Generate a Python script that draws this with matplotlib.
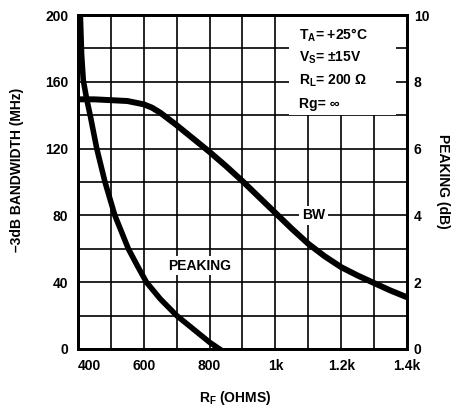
import matplotlib
matplotlib.use("Agg")
import matplotlib.pyplot as plt
from matplotlib.patches import Rectangle

plt.rcParams['font.family'] = ['Liberation Sans', 'DejaVu Sans']
plt.rcParams['font.weight'] = 'bold'
plt.rcParams['mathtext.fontset'] = 'custom'
plt.rcParams['mathtext.rm'] = 'Liberation Sans:bold'
plt.rcParams['mathtext.it'] = 'Liberation Sans:bold'
plt.rcParams['mathtext.bf'] = 'Liberation Sans:bold'
plt.rcParams['mathtext.default'] = 'rm'

# -3dB bandwidth (left axis, MHz) vs feedback resistor
bw_rf = [400, 450, 500, 550, 600, 625, 650, 700, 750, 800, 850, 900, 950, 1000,
         1050, 1100, 1150, 1200, 1250, 1300, 1350, 1400]
bw_mhz = [149.5, 149.5, 149, 148.5, 146.5, 144.5, 141.5, 134, 126, 118, 109.5, 100.5,
          91, 81.5, 72, 63, 55.5, 49, 44, 39.5, 35, 31]

# peaking (right axis, dB) vs feedback resistor
pk_rf = [404, 407, 411, 416, 426, 438, 457, 482, 512, 553, 580, 608, 650, 700, 750, 800, 830]
pk_db = [11, 10, 8.8, 8.05, 7.5, 6.95, 6, 5, 4, 3, 2.5, 2, 1.5, 1.0, 0.6, 0.2, 0]

x_ticks = [400, 600, 800, 1000, 1200, 1400]
x_labels = ['400', '600', '800', '1k', '1.2k', '1.4k']
y_ticks = [0, 40, 80, 120, 160, 200]
y2_ticks = [0, 2, 4, 6, 8, 10]

cond_lines = [r'T$_A$= +25°C', r'V$_S$= ±15V', r'R$_L$= 200 Ω', r'Rg= ∞']

fig = plt.figure(figsize=(4.52, 4.09), dpi=100)
ax = fig.add_axes([0.1726, 0.1467, 0.7278, 0.8166])

ax.set_xlim(400, 1400)
ax.set_ylim(0, 200)
ax.set_xticks(x_ticks)
ax.set_xticklabels(x_labels)
ax.set_xticks(range(400, 1401, 100), minor=True)
ax.set_yticks(y_ticks)
ax.set_yticks(range(0, 201, 20), minor=True)
ax.set_axisbelow(True)
ax.grid(which='both', color='black', linewidth=1.2)
ax.tick_params(which='both', length=0, labelsize=10)
ax.tick_params(axis='x', pad=7)
ax.tick_params(axis='y', pad=7)
ax.get_xticklabels()[0].set_horizontalalignment('left')
for s in ax.spines.values():
    s.set_linewidth(2)

ax.plot(bw_rf, bw_mhz, color='black', linewidth=4.3, solid_joinstyle='round', zorder=2)

# white box behind the test conditions
ax.add_patch(Rectangle((0.641, 0.70), 0.325, 0.30, transform=ax.transAxes,
                       facecolor='white', edgecolor='none', zorder=1))
for i, t in enumerate(cond_lines):
    ax.text(0.672, 0.940 - i * 0.069, t, transform=ax.transAxes, fontsize=10,
            fontweight='bold', ha='left', va='center', zorder=3)

ax.text(1116, 80, 'BW', fontsize=10, fontweight='bold', ha='center', va='center',
        zorder=1.5, bbox=dict(facecolor='white', edgecolor='none', pad=2))
ax.text(771, 50, 'PEAKING', fontsize=10, fontweight='bold', ha='center', va='center',
        zorder=1.5, bbox=dict(facecolor='white', edgecolor='none', pad=2))

ax2 = ax.twinx()
ax2.set_ylim(0, 10)
ax2.set_yticks(y2_ticks)
ax2.tick_params(length=0, labelsize=10, pad=5)
for s in ax2.spines.values():
    s.set_linewidth(2)
ax2.plot(pk_rf, pk_db, color='black', linewidth=4.0, solid_joinstyle='round')

fig.text(0.038, 0.584, '–3dB BANDWIDTH (MHz)', rotation=90, ha='center', va='center',
         fontsize=10, fontweight='bold')
fig.text(0.981, 0.557, 'PEAKING (dB)', rotation=-90, ha='center', va='center',
         fontsize=10, fontweight='bold')
fig.text(0.52, 0.027, r'R$_F$ (OHMS)', ha='center', va='center',
         fontsize=10, fontweight='bold')

fig.savefig('out.png', dpi=100)
